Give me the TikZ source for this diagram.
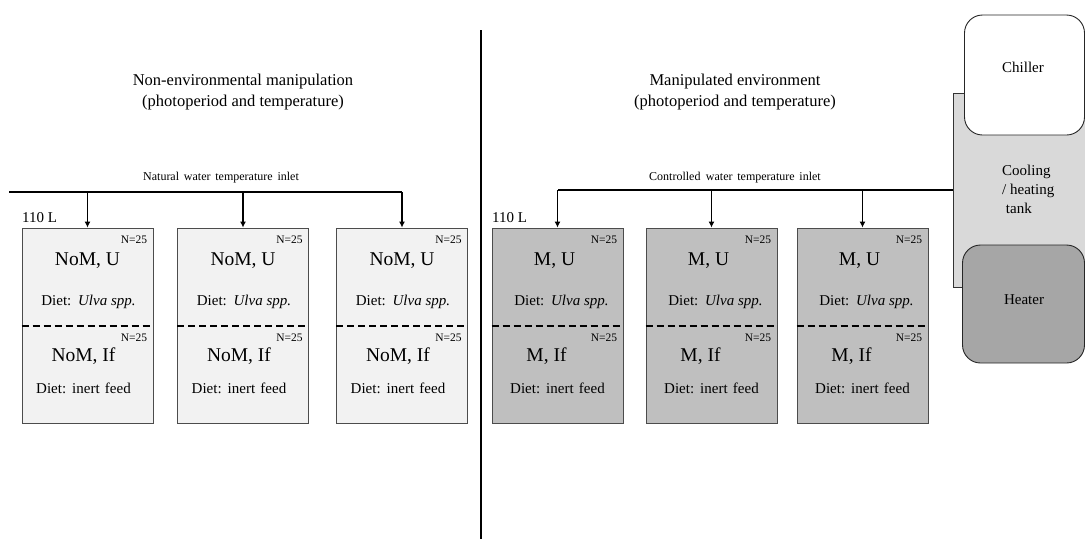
\documentclass[tikz,border=0pt]{standalone}
\usepackage{fontspec}
\setmainfont{Liberation Serif}
\usetikzlibrary{arrows.meta,calc}
\tikzset{
  tankbox/.style={draw=black!70, line width=0.8pt, minimum width=131pt, minimum height=195pt, inner sep=0pt},
  tankL/.style={tankbox, fill=black!5},
  tankR/.style={tankbox, fill=black!25},
  nlab/.style={font=\fontsize{11.5}{12}\selectfont, inner sep=0pt},
  big/.style={font=\fontsize{19.5}{22}\selectfont, inner sep=0pt},
  diet/.style={font=\fontsize{15}{17}\selectfont, inner sep=0pt},
  divider/.style={line width=2.2pt, dash pattern=on 7pt off 4pt},
  pipe/.style={line width=1.2pt},
  feed/.style={line width=1.2pt, -{Latex[length=6pt,width=6pt]}},
  title/.style={font=\fontsize{16.5}{21}\selectfont, align=center, inner sep=0pt},
  inlet/.style={font=\fontsize{12}{13}\selectfont, inner sep=0pt},
}
\newcommand\mytank[9]{%
  \node[#3] (#1) at (#2,325.5) {};
  \node[nlab,anchor=east] (#1na) at ($(#1.north east)+(-6,12)$) {N=25};
  \node[big] (#1a) at ($(#1.north)+(#6,33)$) {#4};
  \node[diet] (#1b) at ($(#1.north)+(#7,74)$) {Diet:\hspace{0.45em}\textit{Ulva spp.}};
  \draw[divider] ($(#1.west)+(0,0.5)$) -- ($(#1.east)+(0,0.5)$);
  \node[nlab,anchor=east] (#1nb) at ($(#1.north east)+(-6,110)$) {N=25};
  \node[big] (#1c) at ($(#1.north)+(#8,129)$) {#5};
  \node[diet] (#1d) at ($(#1.north)+(#9,161)$) {Diet:\hspace{0.4em}inert\hspace{0.35em}feed};
}
\begin{document}
\begin{tikzpicture}[x=1pt,y=-1pt]
\useasboundingbox (0,0) rectangle (1085,539);
% divider
\draw[line width=1.3pt] (481,30) -- (481,539);
% titles
\node[title] (t1) at (243,92.5) {Non-environmental manipulation\\(photoperiod and temperature)};
\node[title] (t2) at (735,92.5) {Manipulated environment\\(photoperiod and temperature)};
% left tanks
\mytank{L1}{87.5}{tankL}{NoM, U}{NoM, If}{0}{1}{-4}{-4}
\mytank{L2}{243}{tankL}{NoM, U}{NoM, If}{0}{1}{-4}{-4}
\mytank{L3}{402}{tankL}{NoM, U}{NoM, If}{0}{1}{-4}{-4}
% right tanks
\mytank{R1}{557.5}{tankR}{M, U}{M, If}{-3}{4}{-11}{0}
\mytank{R2}{711.5}{tankR}{M, U}{M, If}{-3}{4}{-11}{0}
\mytank{R3}{862.5}{tankR}{M, U}{M, If}{-3}{4}{-11}{0}
\node[font=\fontsize{15}{16}\selectfont, anchor=west, inner sep=0pt] (v1) at (22,218) {110 L};
\node[font=\fontsize{15}{16}\selectfont, anchor=west, inner sep=0pt] (v2) at (492,218) {110 L};
% left inlet
\coordinate (lin) at (9,192);
\draw[pipe] (lin) -- (L3.north |- lin);
\node[inlet] (lt) at (221,178) {Natural\hspace{0.4em}water\hspace{0.4em}temperature\hspace{0.4em}inlet};
\foreach \b in {L1,L2,L3} \draw[feed] (\b.north |- lin) -- (\b.north);
% right equipment
\node[draw=black!80, line width=0.8pt, fill=black!15, minimum width=132pt, minimum height=194pt, inner sep=0pt] (tank) at (1019,190) {};
\node[draw=black!85, line width=0.9pt, fill=white, rounded corners=18pt, minimum width=120pt, minimum height=120pt, inner sep=0pt] (chiller) at (1024.5,75) {};
\node[draw=black!85, line width=0.9pt, fill=black!35, rounded corners=18pt, minimum width=122pt, minimum height=118pt, inner sep=0pt] (heater) at (1023.5,304) {};
\node[diet] (chl) at (1023,67) {Chiller};
\node[diet] (htl) at (1024,300) {Heater};
\node[diet, anchor=west, align=left, font=\fontsize{15}{19}\selectfont] (tkl) at (1002,189) {Cooling\\/ heating\\\hspace{0.25em}tank};
% right inlet
\draw[pipe] (tank.west) -- (R1.north |- tank.west);
\node[inlet] (rt) at (735,178) {Controlled\hspace{0.45em}water\hspace{0.4em}temperature\hspace{0.4em}inlet};
\foreach \b in {R1,R2,R3} \draw[feed] (\b.north |- tank.west) -- (\b.north);
\end{tikzpicture}
\end{document}
